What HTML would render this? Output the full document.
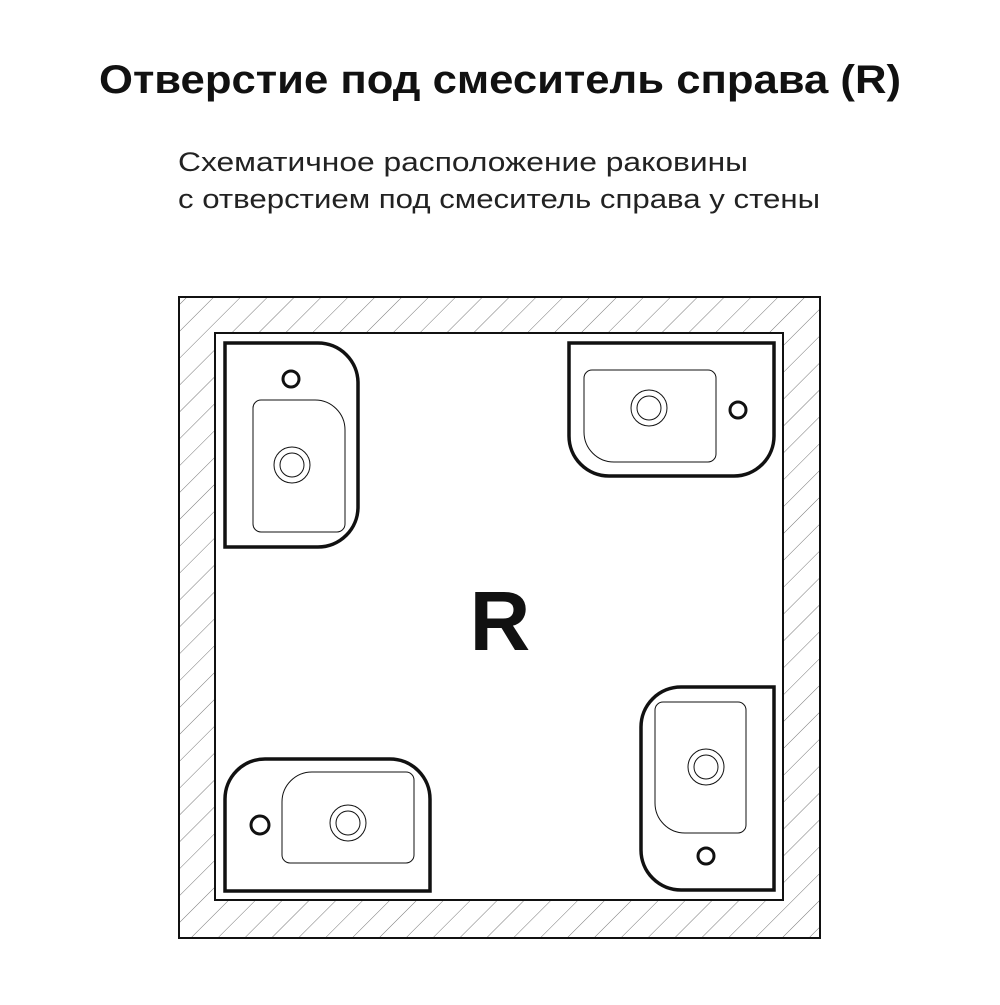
<!DOCTYPE html>
<html><head><meta charset="utf-8"><style>
body{margin:0;width:1000px;height:1000px;background:#fff;overflow:hidden}
</style></head><body>
<svg width="1000" height="1000" viewBox="0 0 1000 1000" xmlns="http://www.w3.org/2000/svg">
<defs>
<pattern id="h" patternUnits="userSpaceOnUse" width="19" height="19" patternTransform="rotate(45)">
<line x1="0" y1="0" x2="0" y2="19" stroke="#777" stroke-width="1"/>
</pattern>
</defs>
<text x="99" y="93" textLength="802" lengthAdjust="spacingAndGlyphs" font-family="Liberation Sans, sans-serif" font-weight="bold" font-size="40" fill="#111">Отверстие под смеситель справа (R)</text>
<text x="178" y="171" textLength="570" lengthAdjust="spacingAndGlyphs" font-family="Liberation Sans, sans-serif" font-size="27" fill="#222">Схематичное расположение раковины</text>
<text x="178" y="208" textLength="642" lengthAdjust="spacingAndGlyphs" font-family="Liberation Sans, sans-serif" font-size="27" fill="#222">с отверстием под смеситель справа у стены</text>
<path d="M179,297H820V938H179Z M215,333V900H783V333Z" fill="url(#h)" fill-rule="evenodd"/>
<rect x="179" y="297" width="641" height="641" fill="none" stroke="#111" stroke-width="2"/>
<rect x="215" y="333" width="568" height="567" fill="none" stroke="#111" stroke-width="2"/>
<g fill="none" stroke="#111">
<path d="M225,343H318A40,40 0 0 1 358,383V507A40,40 0 0 1 318,547H225Z" stroke-width="3.5"/>
<path d="M261,400H315A30,30 0 0 1 345,430V524A8,8 0 0 1 337,532H261A8,8 0 0 1 253,524V408A8,8 0 0 1 261,400Z" stroke-width="1"/>
<circle cx="292" cy="465" r="18" stroke-width="1"/><circle cx="292" cy="465" r="12" stroke-width="1"/>
<circle cx="291" cy="379" r="8" stroke-width="3"/>
<path d="M569,343H774V436A40,40 0 0 1 734,476H609A40,40 0 0 1 569,436Z" stroke-width="3.5"/>
<path d="M592,370H708A8,8 0 0 1 716,378V454A8,8 0 0 1 708,462H614A30,30 0 0 1 584,432V378A8,8 0 0 1 592,370Z" stroke-width="1"/>
<circle cx="649" cy="408" r="18" stroke-width="1"/><circle cx="649" cy="408" r="12" stroke-width="1"/>
<circle cx="738" cy="410" r="8" stroke-width="3"/>
<path d="M774,687V890H681A40,40 0 0 1 641,850V727A40,40 0 0 1 681,687Z" stroke-width="3.5"/>
<path d="M663,702H738A8,8 0 0 1 746,710V825A8,8 0 0 1 738,833H685A30,30 0 0 1 655,803V710A8,8 0 0 1 663,702Z" stroke-width="1"/>
<circle cx="706" cy="767" r="18" stroke-width="1"/><circle cx="706" cy="767" r="12" stroke-width="1"/>
<circle cx="706" cy="856" r="8" stroke-width="3"/>
<path d="M225,891V799A40,40 0 0 1 265,759H390A40,40 0 0 1 430,799V891Z" stroke-width="3.5"/>
<path d="M312,772H406A8,8 0 0 1 414,780V855A8,8 0 0 1 406,863H290A8,8 0 0 1 282,855V802A30,30 0 0 1 312,772Z" stroke-width="1"/>
<circle cx="348" cy="823" r="18" stroke-width="1"/><circle cx="348" cy="823" r="12" stroke-width="1"/>
<circle cx="260" cy="825" r="9" stroke-width="3"/>
</g>
<text x="500" y="650" text-anchor="middle" font-family="Liberation Sans, sans-serif" font-weight="bold" font-size="84" fill="#111">R</text>
</svg>
</body></html>
